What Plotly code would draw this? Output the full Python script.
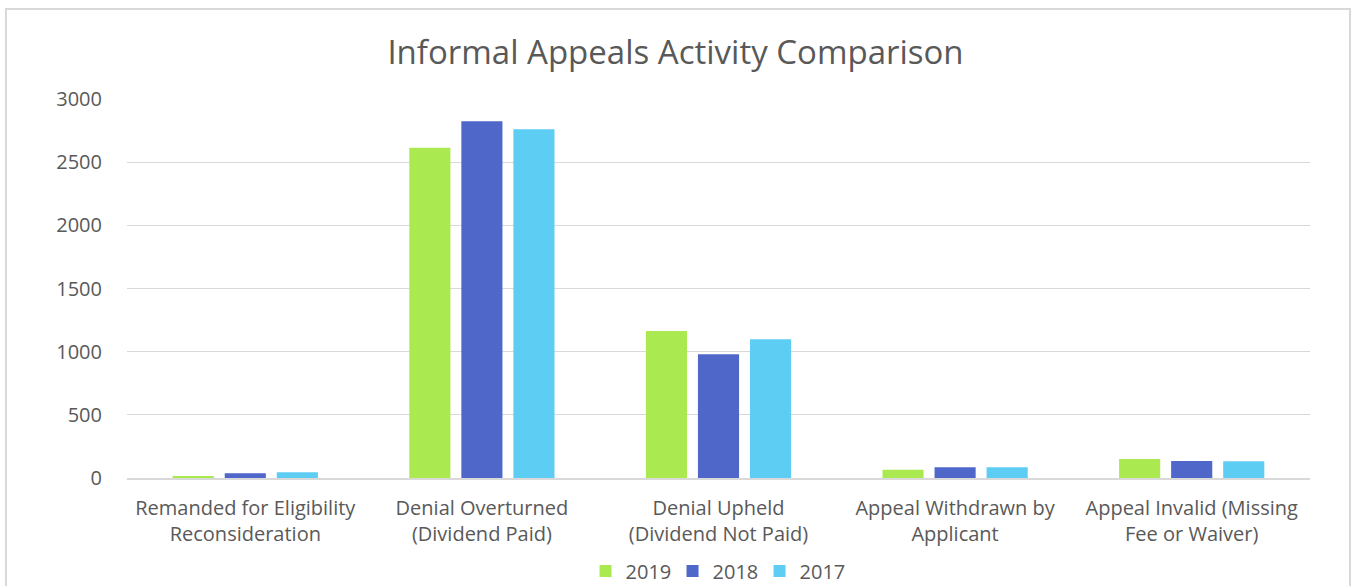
import plotly.graph_objects as go

categories = [
    "Remanded for Eligibility<br>Reconsideration",
    "Denial Overturned<br>(Dividend Paid)",
    "Denial Upheld<br>(Dividend Not Paid)",
    "Appeal Withdrawn by<br>Applicant",
    "Appeal Invalid (Missing<br>Fee or Waiver)",
]
y2019 = [15, 2615, 1164, 66, 150]
y2018 = [38, 2824, 979, 85, 135]
y2017 = [45, 2760, 1098, 85, 132]
y_ticks = [0, 500, 1000, 1500, 2000, 2500, 3000]

font_family = "Open Sans"
text_color = "#595959"

fig = go.Figure()
for name, vals, color in [("2019", y2019, "#aaea50"),
                          ("2018", y2018, "#4e67c8"),
                          ("2017", y2017, "#5ecdf4")]:
    fig.add_trace(go.Bar(x=categories, y=vals, name=name, marker_color=color,
                         marker_line_width=0))

fig.update_layout(
    width=1351, height=586,
    margin=dict(l=127, r=41, t=99, b=108, autoexpand=False),
    paper_bgcolor="white", plot_bgcolor="white",
    font=dict(family=font_family, size=20, color=text_color),
    title=dict(text="Informal Appeals Activity Comparison", x=0.5, xanchor="center",
               y=1 - 52 / 586, yref="container", yanchor="middle",
               font=dict(size=33, color=text_color)),
    barmode="group", bargap=0.34, bargroupgap=0.21,
    showlegend=True,
    legend=dict(orientation="h", x=0.53, xanchor="center", xref="container",
                y=1 - 571 / 586, yref="container", yanchor="middle",
                font=dict(size=20), itemwidth=30, traceorder="normal",
                entrywidth=42, entrywidthmode="pixels"),
    shapes=[dict(type="rect", xref="paper", yref="paper",
                 x0=-0.1023, x1=1.0338, y0=-0.3, y1=1.2375,
                 line=dict(color="#d9d9d9", width=2))],
)
fig.update_yaxes(range=[0, 3000], tickvals=y_ticks, showgrid=True, gridcolor="#d9d9d9",
                 gridwidth=1, zeroline=False, showline=False, ticks="", ticklabelstandoff=24)
fig.update_xaxes(showline=True, linecolor="#d9d9d9", linewidth=2, ticks="",
                 ticklabelstandoff=11)

fig.write_html("out.html", config={"displayModeBar": False},
               post_script="document.body.style.margin='0';")
